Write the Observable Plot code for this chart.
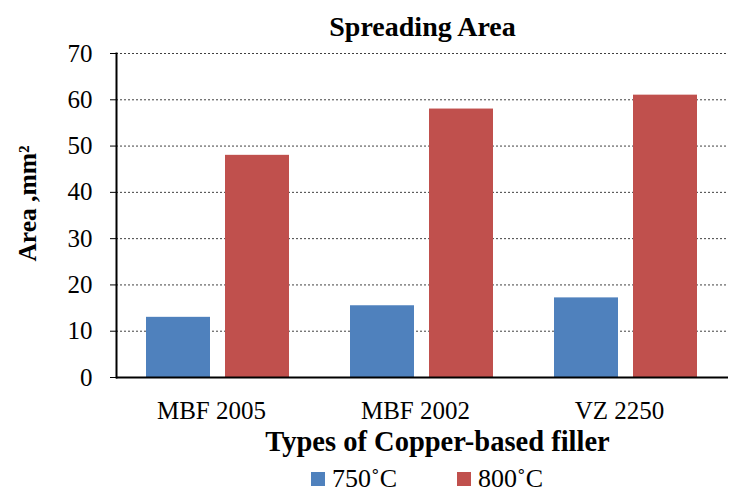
<!DOCTYPE html>
<html>
<head>
<meta charset="utf-8">
<script src="https://cdn.jsdelivr.net/npm/d3@7"></script>
<script src="https://cdn.jsdelivr.net/npm/@observablehq/plot@0.6"></script>
<style>
  html, body { margin: 0; padding: 0; background: white; }
  #chart { width: 729px; height: 462px; }
  .legend { display: flex; align-items: center; height: 33px; padding-left: 311px; font-family: "Liberation Serif", serif; font-size: 26px; color: #000; }
  .legend .item { display: flex; align-items: center; }
  .legend .sw { width: 14px; height: 14px; margin-right: 7px; }
</style>
</head>
<body>
<div id="chart"></div>
<script>
const title = "Spreading Area";
const yLabel = "Area ,mm²";
const xLabel = "Types of Copper-based filler";
const categories = ["MBF 2005", "MBF 2002", "VZ 2250"];
const series = ["750˚C", "800˚C"];
const values750 = [13, 15.5, 17.2];
const values800 = [48, 58, 61];
const yTicks = [0, 10, 20, 30, 40, 50, 60, 70];
const colors = ["#4F81BD", "#C0504D"];

const data = categories.flatMap((c, i) => [
  {cat: c, series: series[0], value: values750[i]},
  {cat: c, series: series[1], value: values800[i]}
]);

const chart = Plot.plot({
  width: 729,
  height: 462,
  marginLeft: 116,
  marginRight: 1,
  marginTop: 53,
  marginBottom: 85,
  style: {fontFamily: "Liberation Serif, serif", fontSize: "25px", color: "#000", background: "white", display: "block"},
  fx: {domain: categories, padding: 0, axis: null},
  x: {domain: series, paddingInner: 0.1875, paddingOuter: 0.369, axis: null},
  y: {domain: [0, 70], ticks: yTicks, tickSize: 6, tickPadding: 18, label: null},
  color: {domain: series, range: colors},
  marks: [
    Plot.ruleY(yTicks.filter(d => d > 0), {stroke: "#404040", strokeDasharray: "2,2", strokeWidth: 1}),
    Plot.barY(data, {fx: "cat", x: "series", y: "value", fill: "series"}),
    Plot.ruleY([0], {stroke: "#000", strokeWidth: 2}),
    Plot.frame({anchor: "left", fx: () => categories[0], stroke: "#000", strokeWidth: 2}),
    Plot.text(categories, {fx: d => d, text: d => d, frameAnchor: "bottom", lineAnchor: "middle", textAnchor: "middle", dx: -7, dy: 33, fontSize: 25}),
    Plot.text([title], {fx: () => categories[1], frameAnchor: "top", lineAnchor: "middle", textAnchor: "middle", dy: -26, fontWeight: "bold", fontSize: 28}),
    Plot.text([yLabel], {fx: () => categories[0], frameAnchor: "left", lineAnchor: "middle", textAnchor: "middle", dx: -89, dy: -12, rotate: -90, fontWeight: "bold", fontSize: 25.5}),
    Plot.text([xLabel], {fx: () => categories[1], frameAnchor: "bottom", lineAnchor: "middle", textAnchor: "middle", dx: 15, dy: 64, fontWeight: "bold", fontSize: 28.5})
  ]
});
document.getElementById("chart").appendChild(chart);

const legend = document.createElement("div");
legend.className = "legend";
series.forEach((s, i) => {
  const item = document.createElement("div");
  item.className = "item";
  if (i > 0) item.style.marginLeft = "60px";
  const sw = document.createElement("span");
  sw.className = "sw";
  sw.style.background = colors[i];
  const t = document.createElement("span");
  t.textContent = s;
  item.appendChild(sw);
  item.appendChild(t);
  legend.appendChild(item);
});
document.body.appendChild(legend);
</script>
</body>
</html>
